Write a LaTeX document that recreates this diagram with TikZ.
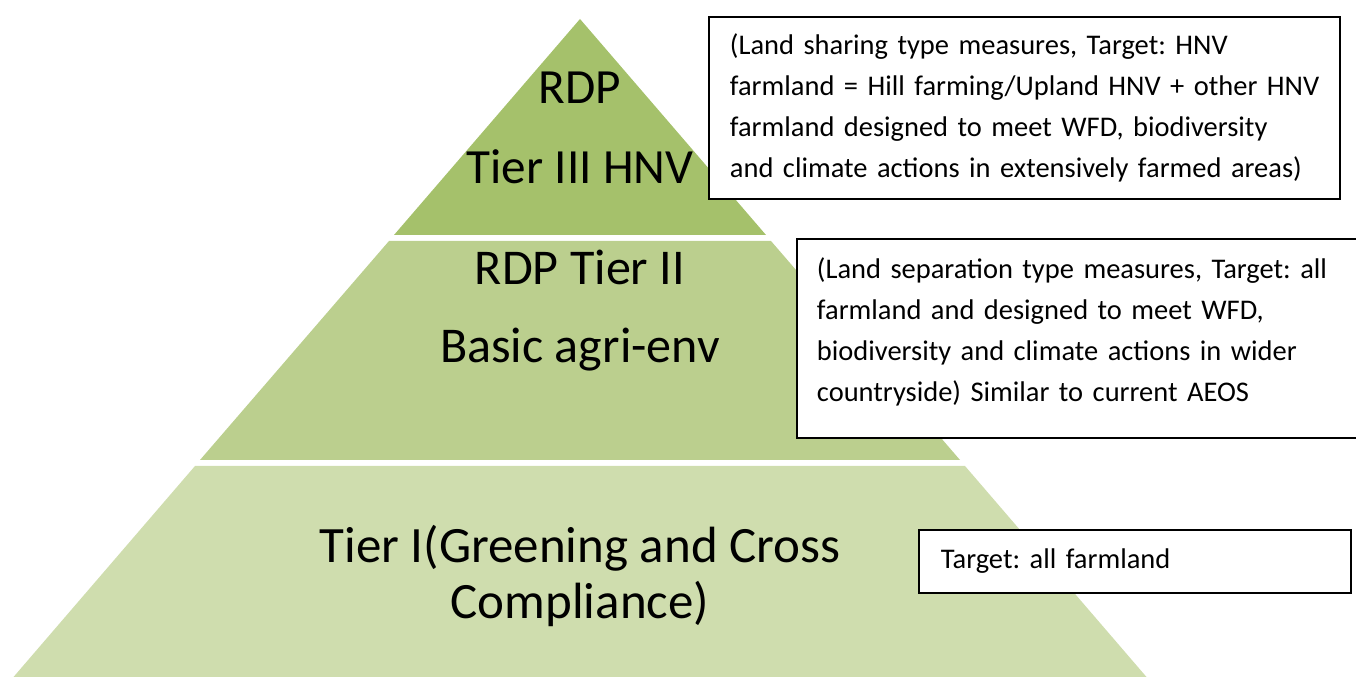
\documentclass[tikz,border=0pt]{standalone}
\usepackage{fontspec}
\setmainfont{Carlito}
\usepackage{tikz}
\usetikzlibrary{positioning}
\definecolor{tierthree}{HTML}{A5C16B}
\definecolor{tiertwo}{HTML}{BBCF8E}
\definecolor{tierone}{HTML}{CFDDAE}
\frenchspacing

\begin{document}
\begin{tikzpicture}[
  tierlabel/.style={align=center, inner sep=0pt},
  notebox/.style={rectangle, draw=black, line width=1.1pt, fill=white, align=left, anchor=north west, font=\fontsize{16.2}{23.3}\selectfont}
]

\useasboundingbox (0,0) rectangle (27.12,13.54);

% pyramid
\fill[tierthree] (11.6,13.16) -- (7.88,8.84) -- (15.32,8.84) -- cycle;
\fill[tiertwo] (7.78,8.72) -- (15.42,8.72) -- (19.2,4.34) -- (4.0,4.34) -- cycle;
\fill[tierone] (3.9,4.22) -- (19.3,4.22) -- (22.93,0) -- (0.27,0) -- cycle;

\node (tier3) at (11.6,10.98)[tierlabel, font=\fontsize{28}{45.5}\selectfont] {RDP\\Tier III HNV};
\node (tier2) at (11.6,7.32)[tierlabel, font=\fontsize{28.5}{44.4}\selectfont] {RDP Tier II\\Basic agri-env};
\node (tier1) at (11.6,2.02)[tierlabel, font=\fontsize{29}{31.9}\selectfont] {Tier I(Greening and Cross\\Compliance)};

% notes
\node (note3) at (14.16,13.22)[notebox, minimum width=12.62cm, minimum height=3.64cm, inner xsep=0.42cm, text width=11.78cm] {(Land sharing type measures, Target: HNV\\farmland = Hill farming/Upland HNV + other HNV\\farmland designed to meet WFD, biodiversity\\and climate actions in extensively farmed areas)};
\node (note2) at (15.92,8.78)[notebox, minimum width=11.5cm, minimum height=3.98cm, inner xsep=0.4cm, text width=10.7cm] {(Land separation type measures, Target: all\\farmland and designed to meet WFD,\\biodiversity and climate actions in wider\\countryside) Similar to current AEOS\rule[-0.35cm]{0pt}{0pt}};
\node (note1) at (18.36,2.96)[notebox, minimum width=8.64cm, minimum height=1.26cm, inner xsep=0.44cm, text width=7.76cm] {Target: all farmland};

\end{tikzpicture}
\end{document}
